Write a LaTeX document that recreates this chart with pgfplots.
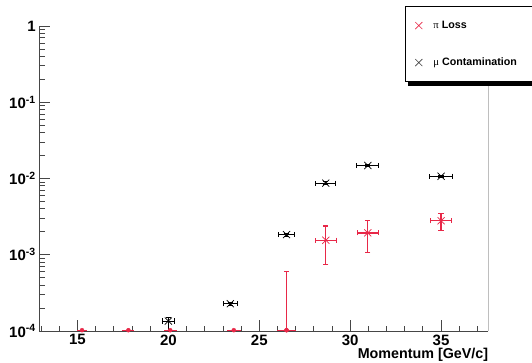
\documentclass[border=0pt]{standalone}
\usepackage{fontspec}
\setmainfont{Liberation Sans}
\newfontfamily\symb{Liberation Serif}
\usepackage{pgfplots}
\pgfplotsset{compat=1.18}
\usetikzlibrary{shadows}
\definecolor{rred}{RGB}{232,40,72}
\definecolor{axgray}{RGB}{70,70,70}
\begin{document}
\begin{tikzpicture}
\useasboundingbox (-39.3pt,-31pt) rectangle (492.7pt,331pt);
\begin{axis}[
  at={(0,0)}, anchor=south west,
  scale only axis, width=449pt, height=305pt,
  xmin=12.9, xmax=37.6, ymin=1e-4, ymax=1, ymode=log,
  axis x line*=bottom, axis y line*=left,
  axis line style={axgray, line width=0.8pt, -},
  tick align=inside,
  tick style={axgray, line width=0.8pt},
  major tick length=11pt, minor tick length=5.5pt,
  xtick={15,20,25,30,35},
  xticklabels={15,20,25,30,35},
  minor xtick={13,14,16,17,18,19,21,22,23,24,26,27,28,29,31,32,33,34,36,37},
  ytick={1e-4,1e-3,1e-2,1e-1,1},
  yticklabels={10\textsuperscript{-4},10\textsuperscript{-3},10\textsuperscript{-2},10\textsuperscript{-1},1},
  minor ytick={2e-4,3e-4,4e-4,5e-4,6e-4,7e-4,8e-4,9e-4,
               2e-3,3e-3,4e-3,5e-3,6e-3,7e-3,8e-3,9e-3,
               2e-2,3e-2,4e-2,5e-2,6e-2,7e-2,8e-2,9e-2,
               2e-1,3e-1,4e-1,5e-1,6e-1,7e-1,8e-1,9e-1},
  ticklabel style={font=\fontsize{15}{15}\selectfont\bfseries},
  xlabel={Momentum [GeV/c]},
  xlabel style={at={(rel axis cs:1,0)}, anchor=base east, yshift=-27pt, inner sep=0pt,
                font=\fontsize{14.3}{15}\selectfont\bfseries},
  legend style={at={(axis description cs:0.8145,1.0656)}, anchor=north west,
     draw=black, line width=0.6pt, fill=white,
     font=\fontsize{10.7}{12}\selectfont\bfseries,
     inner xsep=10pt, inner ysep=14pt, row sep=26.5pt, column sep=11pt,
     drop shadow={shadow xshift=3pt, shadow yshift=-4pt, fill=black, opacity=1},
     nodes={inner sep=0pt, text height=8pt, text depth=2.5pt}},
  legend cell align=left,
]
\addlegendimage{only marks, mark=x, mark size=5pt, rred, line width=0.6pt}
\addlegendentry{\makebox[95pt][l]{{\symb\mdseries π} Loss}}
\addlegendimage{only marks, mark=x, mark size=5pt, black!75, line width=0.6pt}
\addlegendentry{\makebox[95pt][l]{{\symb\mdseries μ} Contamination}}

% mu contamination
\addplot[forget plot, only marks, mark=x, mark size=5pt, black, line width=0.7pt,
  error bars/.cd, x dir=both, x explicit, y dir=both, y explicit,
  error mark=|,
  error bar style={black, line width=1pt},
  error mark options={black, mark size=2.6pt, line width=1pt}]
  table[x=x, y=y, x error=ex, y error plus=eyp, y error minus=eym] {
x y ex eyp eym
20.0 1.35e-4 0.32 0.15e-4 0.40e-4
23.41 2.28e-4 0.40 0.12e-4 0.12e-4
26.5 1.84e-3 0.43 0.08e-3 0.08e-3
28.66 8.7e-3 0.56 0.3e-3 0.3e-3
30.97 1.48e-2 0.60 0.05e-2 0.05e-2
35.0 1.07e-2 0.61 0.04e-2 0.04e-2
};

% pi loss
\addplot[forget plot, only marks, mark=x, mark size=5pt, rred, line width=0.7pt,
  error bars/.cd, x dir=both, x explicit, y dir=both, y explicit,
  error mark=|,
  error bar style={rred, line width=1.4pt},
  error mark options={rred, mark size=2.6pt, line width=1.2pt}]
  table[x=x, y=y, x error=ex, y error plus=eyp, y error minus=eym] {
x y ex eyp eym
28.66 1.55e-3 0.58 0.84e-3 0.81e-3
30.97 1.94e-3 0.58 0.87e-3 0.87e-3
35.0 2.79e-3 0.58 0.69e-3 0.71e-3
};

% pi loss, zero entries (drawn on the bottom edge)
\addplot[forget plot, only marks, mark=none, rred,
  error bars/.cd, x dir=both, x explicit,
  error mark=none,
  error bar style={rred, line width=1.2pt}]
  table[x=x, y=y, x error=ex] {
x y ex
15.25 1.025e-4 0.28
17.8 1.025e-4 0.33
20.1 1.025e-4 0.35
23.6 1.025e-4 0.40
26.5 1.025e-4 0.5
};
\addplot[forget plot, only marks, mark=none, rred,
  error bars/.cd, y dir=plus, y explicit,
  error mark=|,
  error bar style={rred, line width=1.4pt},
  error mark options={rred, mark size=2.6pt, line width=1.2pt}]
  table[x=x, y=y, y error plus=eyp] {
x y eyp
26.5 1.025e-4 4.94e-4
};

\draw[axgray, line width=0.8pt] (rel axis cs:1,0) -- (rel axis cs:1,1);
\end{axis}
\end{tikzpicture}
\end{document}
